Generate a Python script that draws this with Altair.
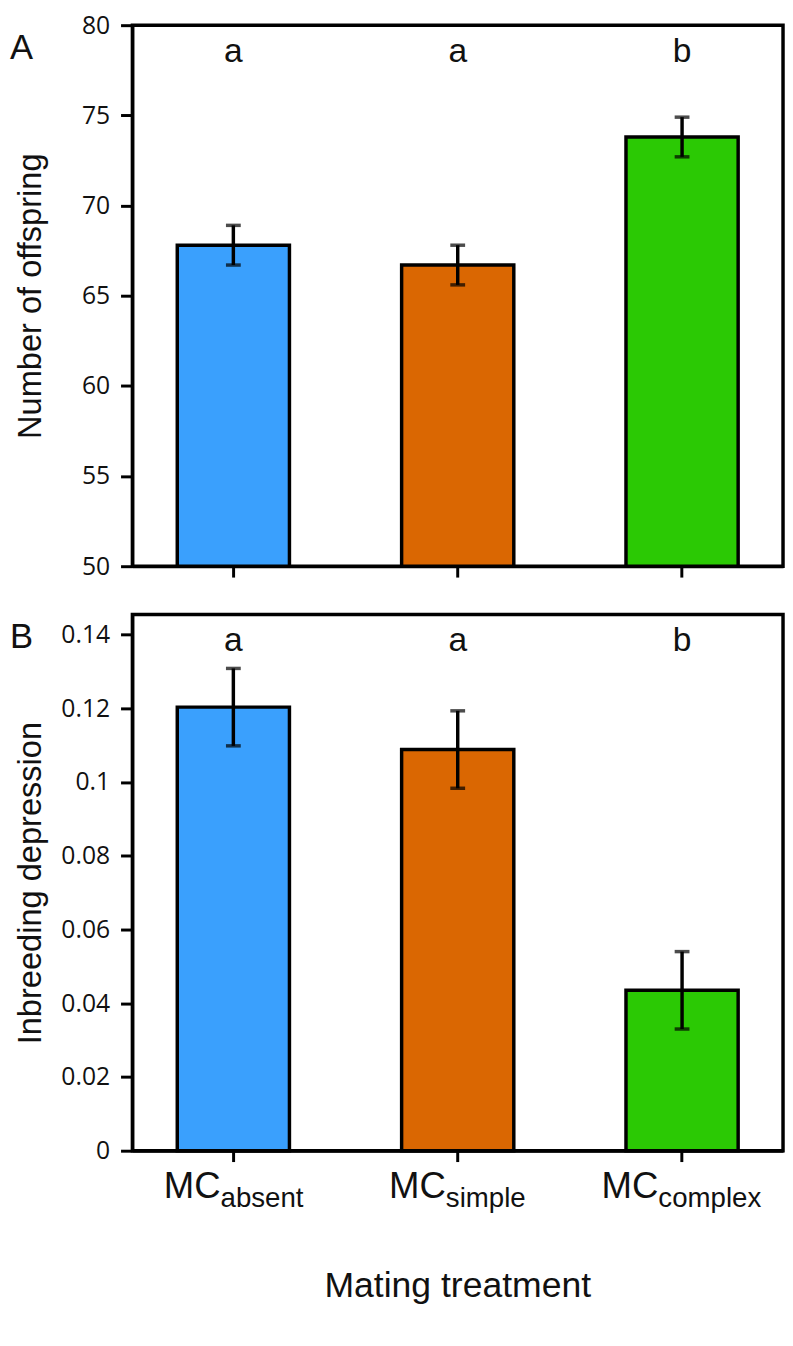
import altair as alt
import pandas as pd

# ---- data ----
cats = ["absent", "simple", "complex"]
offspring = [67.8, 66.7, 73.8]
offspring_se = [1.1, 1.1, 1.1]
inbreeding = [0.1203, 0.1088, 0.0435]
inbreeding_se = [0.0105, 0.0105, 0.0105]
letters_a = ["a", "a", "b"]
letters_b = ["a", "a", "b"]
colors = ["#3AA0FD", "#DA6702", "#2BC904"]
y_ticks_a = [50, 55, 60, 65, 70, 75, 80]
y_ticks_b = [0, 0.02, 0.04, 0.06, 0.08, 0.1, 0.12, 0.14]

# ---- layout constants ----
W = 659
HA = 548
HB = 543
SANS = "Liberation Sans"
TICKF = "Open Sans"
sub_dx = [-13, -12, -24]

dfA = pd.DataFrame({"cat": cats, "mean": offspring, "se": offspring_se, "letter": letters_a})
dfB = pd.DataFrame({"cat": cats, "mean": inbreeding, "se": inbreeding_se, "letter": letters_b})

color = alt.Color("cat:N", scale=alt.Scale(domain=cats, range=colors), legend=None)
xscale = alt.Scale(domain=cats, paddingInner=0.5, paddingOuter=0.2)


def panel(df, ydom, yvals, ytitle, fmt, letter, height, show_x_title):
    xax = alt.Axis(labels=False, title=None, ticks=True, tickSize=11, tickWidth=3,
                   tickColor="black", domain=True, domainWidth=3, domainColor="black",
                   grid=False)
    yax = alt.Axis(values=yvals, format=fmt, title=ytitle, tickSize=12, tickWidth=3,
                   tickColor="black",
                   labelFont=TICKF, labelFontSize=25, labelPadding=11, labelColor="#111",
                   titleFont=SANS, titleFontSize=33, titleFontWeight="normal",
                   titleX=-93, titleBaseline="alphabetic", titleColor="#111",
                   domainWidth=3, domainColor="black", grid=False)
    yscale = alt.Scale(domain=ydom, nice=False, zero=False)
    base = alt.Chart(df).transform_calculate(
        lo="datum.mean - datum.se", hi="datum.mean + datum.se")
    x = alt.X("cat:N", sort=cats, scale=xscale, axis=xax)

    def Y(f):
        return alt.Y(f, scale=yscale, axis=yax)

    bars = base.mark_bar(stroke="black", strokeWidth=3.5).encode(
        x=x, y=Y("mean:Q"), y2=alt.Y2(datum=ydom[0]), color=color)
    rule = base.mark_rule(color="black", strokeWidth=3.5).encode(
        x=x, y=Y("lo:Q"), y2="hi:Q")
    cap_lo = base.mark_tick(color="black", size=15, thickness=3.5).encode(
        x=x, y=Y("lo:Q"))
    cap_hi = base.mark_tick(color="black", size=15, thickness=3.5).encode(
        x=x, y=Y("hi:Q"))
    lets = base.mark_text(font=SANS, fontSize=34, baseline="middle", color="#111").encode(
        x=x, y=alt.value(27), text="letter:N")
    plab = alt.Chart(pd.DataFrame({"t": [letter]})).mark_text(
        font=SANS, fontSize=35, align="left", baseline="middle", color="#111").encode(
        x=alt.value(-124), y=alt.value(23), text="t:N")
    layers = [bars, rule, cap_lo, cap_hi, lets, plab]
    if show_x_title:
        for i, c in enumerate(cats):
            sub = base.transform_filter(alt.datum.cat == c)
            mc = sub.mark_text(font=SANS, fontSize=37, align="right", baseline="alphabetic",
                               dx=sub_dx[i], color="#111").encode(
                x=x, y=alt.value(height + 48), text=alt.value("MC"))
            sb = sub.mark_text(font=SANS, fontSize=28, align="left", baseline="alphabetic",
                               dx=sub_dx[i], color="#111").encode(
                x=x, y=alt.value(height + 57), text=alt.value(c))
            layers += [mc, sb]
        xt = alt.Chart(pd.DataFrame({"t": ["Mating treatment"]})).mark_text(
            font=SANS, fontSize=36, align="center", baseline="alphabetic", color="#111").encode(
            x=alt.value(W / 2), y=alt.value(height + 148), text="t:N")
        layers.append(xt)
    return alt.layer(*layers).properties(width=W, height=height)


pA = panel(dfA, [50, 80], y_ticks_a, "Number of offspring", "d", "A", HA, False)
pB = panel(dfB, [0, 0.1454], y_ticks_b, "Inbreeding depression", "~g", "B", HB, True)

chart = alt.vconcat(pA, pB, spacing=32).properties(
    padding={"left": 0, "top": -5, "right": 0, "bottom": 0}).configure_view(
    stroke="black", strokeWidth=3.5)

chart.save("out.html", embed_options={"renderer": "svg", "actions": False})
